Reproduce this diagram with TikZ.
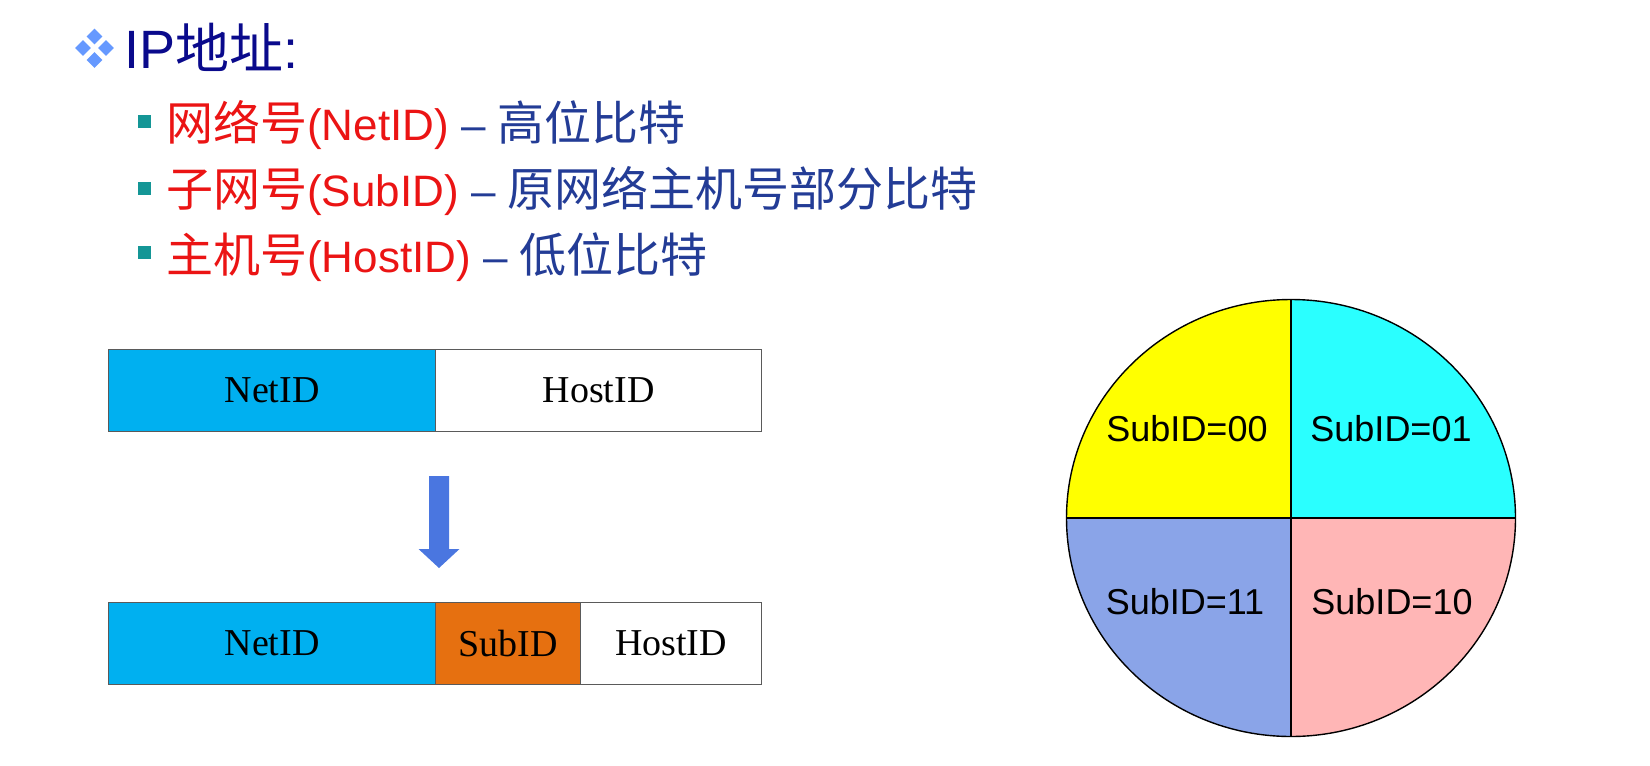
\documentclass[tikz,border=0pt]{standalone}
\usepackage{fontspec}
\setmainfont{Liberation Sans}
\newfontfamily\cjk{Noto Sans CJK SC}
\newfontfamily\serifface{Liberation Serif}
\usetikzlibrary{shapes.geometric}
\definecolor{titleblue}{RGB}{10,10,140}
\definecolor{textblue}{RGB}{35,60,150}
\definecolor{textred}{RGB}{235,20,20}
\definecolor{bullteal}{RGB}{20,150,150}
\definecolor{diamblue}{RGB}{102,153,255}
\definecolor{netblue}{RGB}{0,176,240}
\definecolor{suborange}{RGB}{230,112,16}
\definecolor{arrowblue}{RGB}{74,118,224}
\definecolor{qyellow}{RGB}{255,255,0}
\definecolor{qcyan}{RGB}{42,255,255}
\definecolor{qblue}{RGB}{138,164,232}
\definecolor{qpink}{RGB}{255,182,182}
\definecolor{bordergray}{RGB}{90,90,90}
\newcommand{\cjkb}{\cjk\fontsize{47}{50}\selectfont}
\tikzset{
  field/.style={draw=bordergray, line width=1.2pt, minimum height=82pt, inner sep=0pt,
    anchor=north west, font=\serifface\fontsize{38}{40}\selectfont},
  bullsq/.style={fill=bullteal, minimum size=13pt, inner sep=0pt},
  diam/.style={diamond, fill=diamblue, minimum size=16pt, inner sep=0pt},
  bline/.style={anchor=base west, inner sep=0pt, font=\fontsize{44}{50}\selectfont},
  qlabel/.style={font=\fontsize{36}{40}\selectfont, inner sep=0pt},
}
\begin{document}
\begin{tikzpicture}[x=1pt,y=-1pt]
\useasboundingbox (0,0) rectangle (1650,766);
% title
\node[diam] (d1) at (94.5,36.5) {};
\node[diam] (d2) at (83,48) {};
\node[diam] (d3) at (106,48) {};
\node[diam] (d4) at (94.5,60) {};
\node[anchor=base west, inner sep=0pt, font=\fontsize{54}{60}\selectfont, text=titleblue] (title) at (124,68) {IP{\cjk 地址}:};
% bullets
\node[bullsq] (b1) at (144,121.5) {};
\node[bullsq] (b2) at (144,188) {};
\node[bullsq] (b3) at (144,252) {};
\node[bline] (t1) at (166,140) {{\color{textred}{\cjkb 网络号}(NetID)} {\color{textblue}– {\cjkb 高位比特}}};
\node[bline] (t2) at (166,206) {{\color{textred}{\cjkb 子网号}(SubID)} {\color{textblue}– {\cjkb 原网络主机号部分比特}}};
\node[bline] (t3) at (166,272) {{\color{textred}{\cjkb 主机号}(HostID)} {\color{textblue}– {\cjkb 低位比特}}};
% bars
\node[field, fill=netblue, minimum width=327pt] (net1) at (108,349) {NetID};
\node[field, fill=white, minimum width=326pt] (host1) at (435,349) {HostID};
\node[field, fill=netblue, minimum width=327pt] (net2) at (108,602) {NetID};
\node[field, fill=suborange, minimum width=145pt] (sub2) at (435,602) {SubID};
\node[field, fill=white, minimum width=181pt] (host2) at (580,602) {HostID};
% arrow
\fill[arrowblue] (429,476) -- (449,476) -- (449,549) -- (459.5,549) -- (439,568) -- (418.5,549) -- (429,549) -- cycle;
% circle
\coordinate (cc) at (1291,518);
\begin{scope}
\clip (cc) ellipse [x radius=224.5, y radius=218.5];
\fill[qyellow] (1060,290) rectangle (1291,518);
\fill[qcyan] (1291,290) rectangle (1520,518);
\fill[qblue] (1060,518) rectangle (1291,745);
\fill[qpink] (1291,518) rectangle (1520,745);
\end{scope}
\coordinate (ctop) at (1291,299.5);
\coordinate (cbot) at (1291,736.5);
\coordinate (cleft) at (1066.5,518);
\coordinate (cright) at (1515.5,518);
\draw[line width=1.2pt] (ctop) -- (cbot);
\draw[line width=1.2pt] (cleft) -- (cright);
\draw[line width=1.4pt] (cc) ellipse [x radius=224.5, y radius=218.5];
\node[qlabel] (s00) at (1187,429) {SubID=00};
\node[qlabel] (s01) at (1391,429) {SubID=01};
\node[qlabel] (s11) at (1185,602) {SubID=11};
\node[qlabel] (s10) at (1392,602) {SubID=10};
\end{tikzpicture}
\end{document}
